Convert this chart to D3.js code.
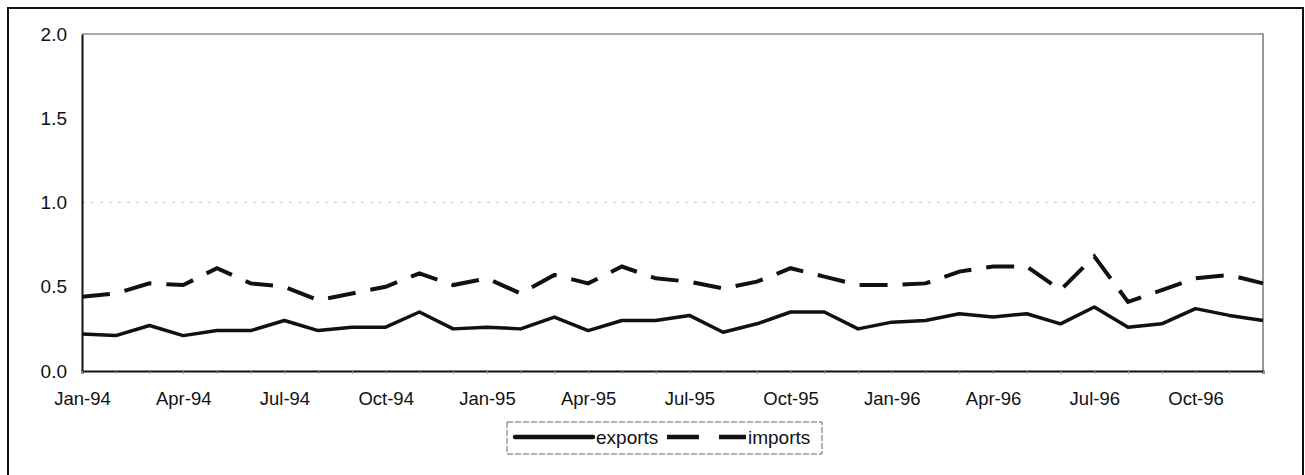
<!DOCTYPE html>
<html>
<head>
<meta charset="utf-8">
<script src="https://cdn.jsdelivr.net/npm/d3@7"></script>
<style>
  body { margin: 0; background: #fff; }
  svg text { font-family: "Liberation Sans", Arial, sans-serif; fill: #111; }
</style>
</head>
<body>
<div id="chart"></div>
<script>
// monthly data, Jan-94 .. Dec-96
const months = d3.range(36).map(i => {
  const m = ['Jan','Feb','Mar','Apr','May','Jun','Jul','Aug','Sep','Oct','Nov','Dec'][i % 12]
  return m + '-' + (94 + Math.floor(i / 12))
})
const exportsVals = [
  0.22, 0.21, 0.27, 0.21, 0.24, 0.24, 0.30, 0.24, 0.26, 0.26, 0.35, 0.25,
  0.26, 0.25, 0.32, 0.24, 0.30, 0.30, 0.33, 0.23, 0.28, 0.35, 0.35, 0.25,
  0.29, 0.30, 0.34, 0.32, 0.34, 0.28, 0.38, 0.26, 0.28, 0.37, 0.33, 0.30
]
const importsVals = [
  0.44, 0.46, 0.52, 0.51, 0.61, 0.52, 0.50, 0.42, 0.46, 0.50, 0.58, 0.51,
  0.55, 0.46, 0.57, 0.52, 0.62, 0.55, 0.53, 0.49, 0.53, 0.61, 0.56, 0.51,
  0.51, 0.52, 0.59, 0.62, 0.62, 0.48, 0.68, 0.41, 0.48, 0.55, 0.57, 0.52
]
const yTicks = [0, 0.5, 1.0, 1.5, 2.0]

const width = 1305, height = 475
const plot = { left: 82, right: 1263, top: 34, bottom: 371 }
const fontFam = '"Liberation Sans", Arial, sans-serif'

const svg = d3.select('#chart').append('svg')
  .attr('width', width)
  .attr('height', height)

// outer frame
svg.append('rect')
  .attr('x', 8).attr('y', 8)
  .attr('width', 1295).attr('height', 480)
  .attr('fill', 'none')
  .attr('stroke', '#111')
  .attr('stroke-width', 2)

const x = d3.scaleLinear().domain([0, months.length - 1]).range([plot.left, plot.right])
const y = d3.scaleLinear().domain([0, 2]).range([plot.bottom, plot.top])

// top and right edge of plot area, thin grey
svg.append('path')
  .attr('d', `M${plot.left},${plot.top}H${plot.right}V${plot.bottom}`)
  .attr('fill', 'none')
  .attr('stroke', '#555')
  .attr('stroke-width', 1.2)

// faint gridline at 1.0
svg.append('line')
  .attr('x1', plot.left).attr('x2', plot.right)
  .attr('y1', y(1)).attr('y2', y(1))
  .attr('stroke', '#ccc')
  .attr('stroke-width', 1)
  .attr('stroke-dasharray', '3,6')

// y axis
const yAxis = svg.append('g')
  .attr('transform', `translate(${plot.left},0)`)
  .call(d3.axisLeft(y).tickValues(yTicks).tickFormat(d3.format('.1f')).tickSize(0).tickPadding(15))
yAxis.select('.domain').attr('stroke', '#111').attr('stroke-width', 2)
yAxis.selectAll('text').attr('font-size', 19).style('font-family', fontFam)

// x axis: monthly ticks, label every third month
const xAxis = svg.append('g')
  .attr('transform', `translate(0,${plot.bottom})`)
  .call(d3.axisBottom(x)
    .tickValues(d3.range(months.length))
    .tickFormat(i => i % 3 === 0 ? months[i] : '')
    .tickSize(3).tickPadding(18))
xAxis.select('.domain').attr('stroke', '#111').attr('stroke-width', 2)
xAxis.selectAll('.tick line').attr('stroke', '#999')
xAxis.selectAll('text').attr('font-size', 18.5).style('font-family', fontFam)

const line = d3.line()
  .x((d, i) => x(i))
  .y(d => y(d))

svg.append('path')
  .datum(importsVals)
  .attr('d', line)
  .attr('fill', 'none')
  .attr('stroke', '#111')
  .attr('stroke-width', 4)
  .attr('stroke-dasharray', '28,15')

svg.append('path')
  .datum(exportsVals)
  .attr('d', line)
  .attr('fill', 'none')
  .attr('stroke', '#111')
  .attr('stroke-width', 3.5)
  .attr('stroke-linejoin', 'round')

// legend
const legend = svg.append('g')
legend.append('rect')
  .attr('x', 507).attr('y', 422)
  .attr('width', 315).attr('height', 32)
  .attr('fill', 'none')
  .attr('stroke', '#666')
  .attr('stroke-width', 1)
  .attr('stroke-dasharray', '6,2')

legend.append('line')
  .attr('x1', 515).attr('x2', 593)
  .attr('y1', 437).attr('y2', 437)
  .attr('stroke', '#111').attr('stroke-width', 4.5).attr('stroke-linecap', 'round')
legend.append('text')
  .attr('x', 596).attr('y', 444)
  .attr('font-size', 19)
  .text('exports')

legend.append('line')
  .attr('x1', 667).attr('x2', 746)
  .attr('y1', 437).attr('y2', 437)
  .attr('stroke', '#111').attr('stroke-width', 4.5)
  .attr('stroke-dasharray', '32,20')
legend.append('text')
  .attr('x', 748).attr('y', 444)
  .attr('font-size', 19)
  .text('imports')
</script>
</body>
</html>
